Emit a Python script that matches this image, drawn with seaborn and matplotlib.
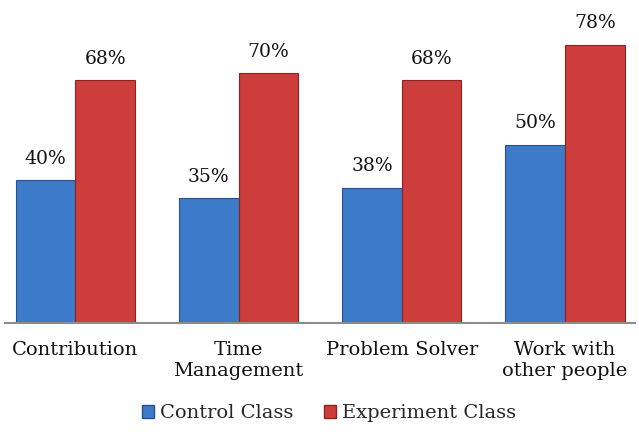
import pandas as pd
import numpy as np
import seaborn as sns
import matplotlib.pyplot as plt
from matplotlib.patches import Patch

# data
categories = ["Contribution", "Time\nManagement", "Problem Solver", "Work with\nother people"]
control = [40, 35, 38, 50]
experiment = [68, 70, 68, 78]
groups = ["Control Class", "Experiment Class"]

df = pd.DataFrame({
    "skill": categories * 2,
    "pct": control + experiment,
    "group": [groups[0]] * 4 + [groups[1]] * 4,
})

sns.set_theme(style="white")
plt.rcParams['font.family'] = ['DejaVu Serif']

fig = plt.figure(figsize=(6.39, 4.32), dpi=100)
ax = fig.add_axes([0.008, 0.252, 0.986, 0.746])

pal = {"Control Class": "#3d7bca", "Experiment Class": "#cc3d3b"}
sns.barplot(data=df, x="skill", y="pct", hue="group", palette=pal,
            width=0.73, saturation=1, ax=ax, legend=False)

edges = {"Control Class": "#25528f", "Experiment Class": "#8a2422"}
for cont, g in zip(ax.containers, groups):
    for b in cont:
        b.set_edgecolor(edges[g])
        b.set_linewidth(0.8)
    ax.bar_label(cont, labels=[f"{v:.0f}%" for v in cont.datavalues],
                 padding=9, fontsize=13.5, color="#111111")

ax.set_ylim(0, 90.3)
ax.set_xlim(-0.43, 3.43)
ax.set_xlabel("")
ax.set_ylabel("")
ax.set_yticks([])
ax.tick_params(axis="x", length=0, pad=13, labelsize=14, labelcolor="#111111")
for s in ["top", "left", "right"]:
    ax.spines[s].set_visible(False)
ax.spines["bottom"].set_color("#8c8c8c")
ax.spines["bottom"].set_linewidth(1.5)

handles = [Patch(facecolor=pal[g], edgecolor=edges[g], label=g) for g in groups]
fig.legend(handles=handles, loc="center", bbox_to_anchor=(0.515, 0.043), ncol=2,
           frameon=False, fontsize=14, handlelength=0.6, handleheight=0.6,
           handletextpad=0.3, columnspacing=1.6)

fig.savefig("out.png", dpi=100)
